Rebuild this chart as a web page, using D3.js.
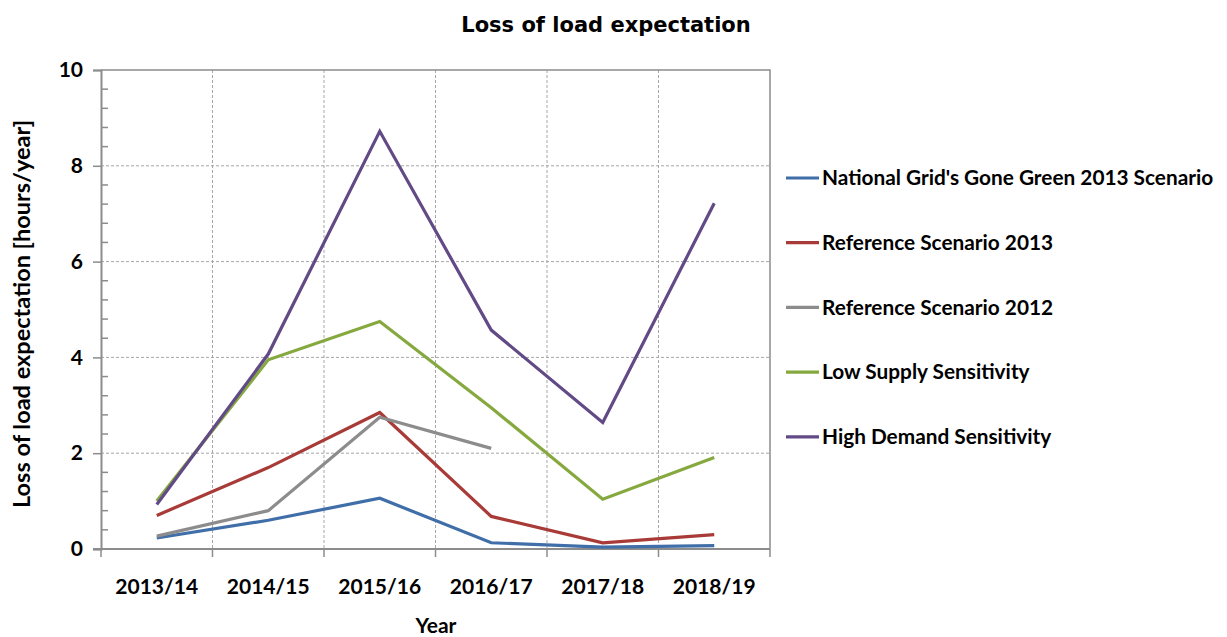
<!DOCTYPE html>
<html>
<head>
<meta charset="utf-8">
<script src="https://cdn.jsdelivr.net/npm/d3@7"></script>
<style>
  body { margin: 0; background: #fff; }
  svg text { fill: #000; }
</style>
</head>
<body>
<svg id="chart" width="1227" height="637"></svg>
<script>
// data
const years = ["2013/14", "2014/15", "2015/16", "2016/17", "2017/18", "2018/19"];
const goneGreen = [0.23, 0.6, 1.06, 0.13, 0.04, 0.07];
const ref2013 = [0.7, 1.7, 2.85, 0.68, 0.13, 0.3];
const ref2012 = [0.27, 0.8, 2.75, 2.1, null, null];
const lowSupply = [1.0, 3.95, 4.75, 2.95, 1.04, 1.91];
const highDemand = [0.93, 4.07, 8.72, 4.57, 2.64, 7.22];
const seriesNames = ["National Grid's Gone Green 2013 Scenario", "Reference Scenario 2013",
  "Reference Scenario 2012", "Low Supply Sensitivity", "High Demand Sensitivity"];
const seriesColors = ["#3f6ea8", "#a83b38", "#8c8c8c", "#86a93f", "#624a86"];
const yTicks = [0, 2, 4, 6, 8, 10];

const series = [goneGreen, ref2013, ref2012, lowSupply, highDemand];

const svg = d3.select("#chart");
const pLeft = 101, pRight = 770, pTop = 70, pBottom = 549;
const labelFont = "Lato, 'Open Sans', sans-serif";

const x = d3.scaleBand().domain(years).range([pLeft, pRight]);
const y = d3.scaleLinear().domain([0, 10]).range([pBottom, pTop]);

// gridlines
const grid = svg.append("g");
grid.selectAll(".hg").data(yTicks.filter(d => d > 0 && d < 10)).join("line")
  .attr("x1", pLeft).attr("x2", pRight)
  .attr("y1", d => y(d)).attr("y2", d => y(d))
  .attr("stroke", "#a6a6a6").attr("stroke-dasharray", "3,2");
grid.selectAll(".vg").data(years.slice(1)).join("line")
  .attr("x1", d => x(d)).attr("x2", d => x(d))
  .attr("y1", pTop).attr("y2", pBottom)
  .attr("stroke", "#a6a6a6").attr("stroke-dasharray", "3,2");

// plot frame top/right
svg.append("path")
  .attr("d", `M${pLeft},${pTop}H${pRight}V${pBottom}`)
  .attr("fill", "none").attr("stroke", "#8c8c8c").attr("stroke-width", 1.5);

// y axis
const yAxis = d3.axisLeft(y).tickValues(yTicks).tickSize(8).tickPadding(10);
const gy = svg.append("g").attr("transform", `translate(${pLeft},0)`).call(yAxis);
gy.select(".domain").attr("stroke", "#8c8c8c").attr("stroke-width", 2);
gy.selectAll(".tick line").attr("stroke", "#8c8c8c").attr("stroke-width", 1.5);
gy.selectAll("text").style("font-family", labelFont).style("font-weight", "bold").style("font-size", "21px");

// y minor ticks
const minor = d3.range(0, 10.01, 0.4).filter(d => Math.abs(d / 2 - Math.round(d / 2)) > 0.01);
svg.append("g").selectAll("line").data(minor).join("line")
  .attr("x1", pLeft).attr("x2", pLeft + 7)
  .attr("y1", d => y(d)).attr("y2", d => y(d))
  .attr("stroke", "#8c8c8c").attr("stroke-width", 1.5);

// x axis
const gx = svg.append("g").attr("transform", `translate(0,${pBottom})`)
  .call(d3.axisBottom(x).tickSize(0).tickPadding(30));
gx.select(".domain").remove();
svg.append("line").attr("x1", pLeft - 8).attr("x2", pRight).attr("y1", pBottom).attr("y2", pBottom)
  .attr("stroke", "#8c8c8c").attr("stroke-width", 2);
svg.append("g").selectAll("line").data(years.map(d => x(d)).concat([pRight])).join("line")
  .attr("x1", d => d).attr("x2", d => d)
  .attr("y1", pBottom).attr("y2", pBottom + 8)
  .attr("stroke", "#8c8c8c").attr("stroke-width", 1.5);
gx.selectAll("text").style("font-family", labelFont).style("font-weight", "bold").style("font-size", "21px");

// lines
const line = d3.line()
  .defined(d => d != null)
  .x((d, i) => x(years[i]) + x.bandwidth() / 2)
  .y(d => y(d));
svg.append("g").selectAll("path").data(series).join("path")
  .attr("d", d => line(d))
  .attr("fill", "none")
  .attr("stroke", (d, i) => seriesColors[i])
  .attr("stroke-width", 3.2)
  .attr("stroke-linejoin", "miter");

// titles
svg.append("text").attr("x", 606).attr("y", 32).attr("text-anchor", "middle")
  .style("font-family", "'DejaVu Sans', Verdana, sans-serif").style("font-weight", "bold").style("font-size", "21px")
  .text("Loss of load expectation");
svg.append("text").attr("x", 436).attr("y", 633).attr("text-anchor", "middle")
  .style("font-family", labelFont).style("font-weight", "bold").style("font-size", "21px")
  .text("Year");
svg.append("text").attr("transform", "translate(30,314) rotate(-90)").attr("text-anchor", "middle")
  .style("font-family", labelFont).style("font-weight", "bold").style("font-size", "23.5px")
  .text("Loss of load expectation [hours/year]");

// legend
const legend = svg.append("g").selectAll("g").data(seriesNames).join("g")
  .attr("transform", (d, i) => `translate(786,${178 + i * 64.7})`);
legend.append("line").attr("x1", 0).attr("x2", 33)
  .attr("stroke", (d, i) => seriesColors[i]).attr("stroke-width", 3.2);
legend.append("text").attr("x", 36).attr("dy", "0.35em")
  .style("font-family", labelFont).style("font-weight", "bold").style("font-size", "20.8px")
  .text(d => d);
</script>
</body>
</html>
